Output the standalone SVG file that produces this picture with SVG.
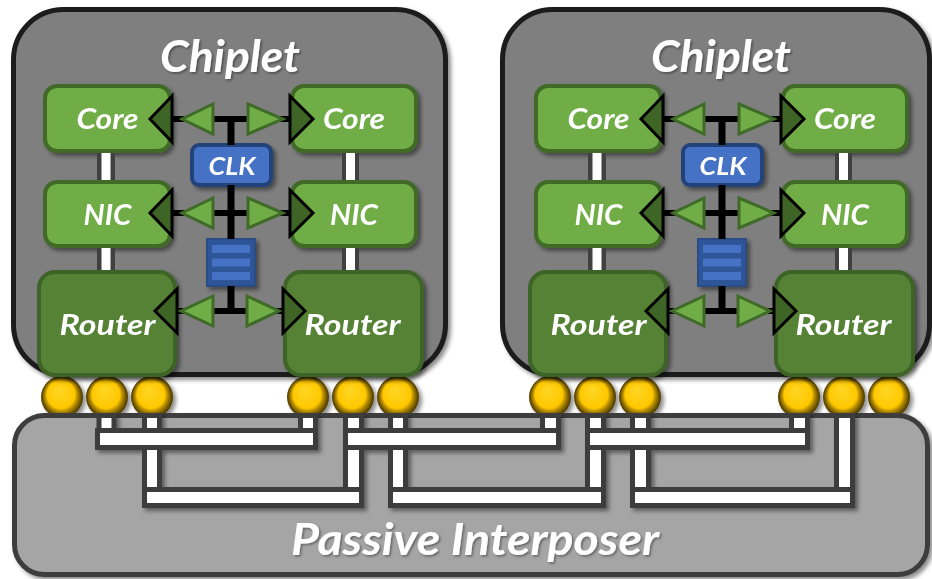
<svg xmlns="http://www.w3.org/2000/svg" width="932" height="579" viewBox="0 0 932 579">
  <defs>
    <style>
      .lbl { font-family: Lato, "Open Sans", "Liberation Sans", sans-serif; font-weight: bold; font-style: italic; fill: #ffffff; text-anchor: middle; }
      .die { fill: #7f7f7f; stroke: #1b1b1b; stroke-width: 5; }
      .blk { fill: #70ad47; stroke: #3f6a28; stroke-width: 4; }
      .rtr { fill: #548235; stroke: #3d6326; stroke-width: 4; }
      .clk { fill: #4472c4; stroke: #22427a; stroke-width: 4; }
      .buf { fill: #2f5597; stroke: #2a4d88; stroke-width: 2; }
      .bar { fill: #4472c4; }
      .base { fill: #a5a5a5; stroke: #3d3d3d; stroke-width: 5; }
      .wire { fill: #ffffff; stroke: #3d3d3d; stroke-width: 5; }
      .bus { stroke: #000000; stroke-width: 6; fill: none; }
      .stem { stroke: #000000; stroke-width: 7; fill: none; }
      .head { fill: #3f6526; stroke: #000000; stroke-width: 3; stroke-linejoin: miter; }
      .flow { fill: #70ad47; stroke: #3f6a28; stroke-width: 3; stroke-linejoin: miter; }
      .link-edge { fill: #404040; }
      .link-core { fill: #ffffff; }
      .bump { fill: url(#bumpFill); }
    </style>
    <filter id="shadow" x="-20%" y="-20%" width="150%" height="150%">
      <feDropShadow dx="3" dy="3" stdDeviation="2" flood-color="#000000" flood-opacity="0.45"/>
    </filter>
    <filter id="textShadow" x="-10%" y="-20%" width="130%" height="150%">
      <feDropShadow dx="1.5" dy="1.5" stdDeviation="1" flood-color="#000000" flood-opacity="0.4"/>
    </filter>
    <radialGradient id="bumpFill" cx="0.5" cy="0.5" r="0.5" fx="0.42" fy="0.32">
      <stop offset="0" stop-color="#ffd626"/>
      <stop offset="0.66" stop-color="#ffc800"/>
      <stop offset="0.78" stop-color="#b58c00"/>
      <stop offset="0.92" stop-color="#6b5200"/>
      <stop offset="1" stop-color="#4a3800"/>
    </radialGradient>
  </defs>

  <!-- micro-bumps under each router (lower halves sit behind the interposer edge) -->
  <g id="bumps-a-left" filter="url(#shadow)">
    <circle class="bump" cx="62" cy="397" r="21"/>
    <circle class="bump" cx="107" cy="397" r="21"/>
    <circle class="bump" cx="152" cy="397" r="21"/>
  </g>
  <g id="bumps-a-right" filter="url(#shadow)">
    <circle class="bump" cx="308" cy="397" r="21"/>
    <circle class="bump" cx="353" cy="397" r="21"/>
    <circle class="bump" cx="398" cy="397" r="21"/>
  </g>
  <g id="bumps-b-left" filter="url(#shadow)">
    <circle class="bump" cx="550" cy="397" r="21"/>
    <circle class="bump" cx="595" cy="397" r="21"/>
    <circle class="bump" cx="640" cy="397" r="21"/>
  </g>
  <g id="bumps-b-right" filter="url(#shadow)">
    <circle class="bump" cx="799" cy="397" r="21"/>
    <circle class="bump" cx="844" cy="397" r="21"/>
    <circle class="bump" cx="889" cy="397" r="21"/>
  </g>

  <!-- passive interposer substrate -->
  <g id="interposer">
    <rect class="base" x="14.5" y="415.5" width="913" height="159" rx="30" filter="url(#shadow)"/>
    <text class="lbl" x="475" y="555" font-size="44" textLength="368" lengthAdjust="spacingAndGlyphs" filter="url(#textShadow)">Passive Interposer</text>
  </g>

  <!-- chiplet dies -->
  <g id="chiplet-a">
    <rect class="die" x="13.5" y="9.5" width="432" height="365" rx="50" filter="url(#shadow)"/>
    <text class="lbl" x="230" y="72" font-size="44" textLength="140" lengthAdjust="spacingAndGlyphs" filter="url(#textShadow)">Chiplet</text>
  </g>
  <g id="chiplet-b">
    <rect class="die" x="502.5" y="9.5" width="427" height="365" rx="50" filter="url(#shadow)"/>
    <text class="lbl" x="721" y="72" font-size="44" textLength="140" lengthAdjust="spacingAndGlyphs" filter="url(#textShadow)">Chiplet</text>
  </g>

  <!-- chiplet A blocks -->
  <g id="a-core-left" filter="url(#shadow)">
    <rect class="blk" x="45" y="86" width="125" height="65" rx="12"/>
    <text class="lbl" x="107.5" y="129" font-size="28" textLength="62" lengthAdjust="spacingAndGlyphs">Core</text>
  </g>
  <g id="a-core-right" filter="url(#shadow)">
    <rect class="blk" x="292" y="86" width="124" height="65" rx="12"/>
    <text class="lbl" x="354" y="129" font-size="28" textLength="62" lengthAdjust="spacingAndGlyphs">Core</text>
  </g>
  <g id="a-nic-left" filter="url(#shadow)">
    <rect class="blk" x="45" y="182" width="125" height="64" rx="12"/>
    <text class="lbl" x="107.5" y="225" font-size="28" textLength="48" lengthAdjust="spacingAndGlyphs">NIC</text>
  </g>
  <g id="a-nic-right" filter="url(#shadow)">
    <rect class="blk" x="292" y="182" width="124" height="64" rx="12"/>
    <text class="lbl" x="354" y="225" font-size="28" textLength="48" lengthAdjust="spacingAndGlyphs">NIC</text>
  </g>
  <g id="a-router-left" filter="url(#shadow)">
    <rect class="rtr" x="39" y="272" width="136" height="103" rx="16"/>
    <text class="lbl" x="107.5" y="335" font-size="28" textLength="96" lengthAdjust="spacingAndGlyphs">Router</text>
  </g>
  <g id="a-router-right" filter="url(#shadow)">
    <rect class="rtr" x="285" y="272" width="137" height="103" rx="16"/>
    <text class="lbl" x="352.5" y="335" font-size="28" textLength="96" lengthAdjust="spacingAndGlyphs">Router</text>
  </g>
  <g id="a-clk" filter="url(#shadow)">
    <rect class="clk" x="192" y="145" width="79" height="40" rx="7"/>
    <text class="lbl" x="232" y="175" font-size="25" textLength="47" lengthAdjust="spacingAndGlyphs">CLK</text>
  </g>
  <g id="a-buffer" filter="url(#shadow)">
    <rect class="buf" x="207" y="239" width="48" height="47"/>
    <rect class="bar" x="212" y="245" width="38" height="8"/>
    <rect class="bar" x="212" y="258.5" width="38" height="8"/>
    <rect class="bar" x="212" y="272" width="38" height="8"/>
  </g>

  <!-- chiplet B blocks (same floorplan, shifted) -->
  <g id="b-core-left" transform="translate(491,0)" filter="url(#shadow)">
    <rect class="blk" x="45" y="86" width="125" height="65" rx="12"/>
    <text class="lbl" x="107.5" y="129" font-size="28" textLength="62" lengthAdjust="spacingAndGlyphs">Core</text>
  </g>
  <g id="b-core-right" transform="translate(491,0)" filter="url(#shadow)">
    <rect class="blk" x="292" y="86" width="124" height="65" rx="12"/>
    <text class="lbl" x="354" y="129" font-size="28" textLength="62" lengthAdjust="spacingAndGlyphs">Core</text>
  </g>
  <g id="b-nic-left" transform="translate(491,0)" filter="url(#shadow)">
    <rect class="blk" x="45" y="182" width="125" height="64" rx="12"/>
    <text class="lbl" x="107.5" y="225" font-size="28" textLength="48" lengthAdjust="spacingAndGlyphs">NIC</text>
  </g>
  <g id="b-nic-right" transform="translate(491,0)" filter="url(#shadow)">
    <rect class="blk" x="292" y="182" width="124" height="64" rx="12"/>
    <text class="lbl" x="354" y="225" font-size="28" textLength="48" lengthAdjust="spacingAndGlyphs">NIC</text>
  </g>
  <g id="b-router-left" transform="translate(491,0)" filter="url(#shadow)">
    <rect class="rtr" x="39" y="272" width="136" height="103" rx="16"/>
    <text class="lbl" x="107.5" y="335" font-size="28" textLength="96" lengthAdjust="spacingAndGlyphs">Router</text>
  </g>
  <g id="b-router-right" transform="translate(491,0)" filter="url(#shadow)">
    <rect class="rtr" x="285" y="272" width="137" height="103" rx="16"/>
    <text class="lbl" x="352.5" y="335" font-size="28" textLength="96" lengthAdjust="spacingAndGlyphs">Router</text>
  </g>
  <g id="b-clk" transform="translate(491,0)" filter="url(#shadow)">
    <rect class="clk" x="192" y="145" width="79" height="40" rx="7"/>
    <text class="lbl" x="232" y="175" font-size="25" textLength="47" lengthAdjust="spacingAndGlyphs">CLK</text>
  </g>
  <g id="b-buffer" transform="translate(491,0)" filter="url(#shadow)">
    <rect class="buf" x="207" y="239" width="48" height="47"/>
    <rect class="bar" x="212" y="245" width="38" height="8"/>
    <rect class="bar" x="212" y="258.5" width="38" height="8"/>
    <rect class="bar" x="212" y="272" width="38" height="8"/>
  </g>

  <!-- connectors -->
  <g id="connectors">
    <!-- interposer traces: vertical vias first, horizontal runs on top -->
    <g id="interposer-traces" filter="url(#shadow)">
      <rect class="wire" x="99" y="415.5" width="15" height="24"/>
      <rect class="wire" x="144.5" y="415.5" width="15" height="84"/>
      <rect class="wire" x="300.5" y="415.5" width="15" height="24"/>
      <rect class="wire" x="345.5" y="415.5" width="16" height="84"/>
      <rect class="wire" x="390.5" y="415.5" width="15" height="84"/>
      <rect class="wire" x="542.5" y="415.5" width="16" height="24"/>
      <rect class="wire" x="587.5" y="415.5" width="16" height="84"/>
      <rect class="wire" x="632.5" y="415.5" width="16" height="84"/>
      <rect class="wire" x="791.5" y="415.5" width="16" height="24"/>
      <rect class="wire" x="836.5" y="415.5" width="16" height="84"/>

      <rect class="wire" x="97.5" y="430.5" width="218" height="17"/>
      <rect class="wire" x="345.5" y="430.5" width="213" height="17"/>
      <rect class="wire" x="587.5" y="430.5" width="220" height="17"/>
      <rect class="wire" x="144.5" y="489.5" width="217" height="16"/>
      <rect class="wire" x="390.5" y="489.5" width="213" height="16"/>
      <rect class="wire" x="632.5" y="489.5" width="220" height="16"/>
    </g>

    <!-- on-die links of chiplet A -->
    <g id="a-links">
      <rect class="link-edge" x="97" y="153" width="18" height="27"/>
      <rect class="link-core" x="101.5" y="153" width="9" height="27"/>
      <rect class="link-edge" x="97" y="248" width="18" height="22"/>
      <rect class="link-core" x="101.5" y="248" width="9" height="22"/>
      <rect class="link-edge" x="342" y="153" width="17" height="27"/>
      <rect class="link-core" x="346" y="153" width="9" height="27"/>
      <rect class="link-edge" x="342" y="248" width="17" height="22"/>
      <rect class="link-core" x="346" y="248" width="9" height="22"/>

      <path class="stem" d="M231 119V145M231 185V239M231 286V311"/>
      <path class="bus" d="M172 119H290M172 213H290M177 311H283"/>

      <polygon class="head" points="172,96 150,119 172,142"/>
      <polygon class="head" points="290,96 313,119 290,142"/>
      <polygon class="head" points="172,190 150,213 172,236"/>
      <polygon class="head" points="290,190 313,213 290,236"/>
      <polygon class="head" points="177,289 155,311 177,333"/>
      <polygon class="head" points="283,289 305,311 283,333"/>

      <polygon class="flow" points="213,104 182,119 213,134"/>
      <polygon class="flow" points="248,104 283,119 248,134"/>
      <polygon class="flow" points="213,198 182,213 213,228"/>
      <polygon class="flow" points="248,198 283,213 248,228"/>
      <polygon class="flow" points="213,296 181,311 213,326"/>
      <polygon class="flow" points="247,296 279,311 247,326"/>
    </g>

    <!-- on-die links of chiplet B -->
    <g id="b-links" transform="translate(491,0)">
      <rect class="link-edge" x="97" y="153" width="18" height="27"/>
      <rect class="link-core" x="101.5" y="153" width="9" height="27"/>
      <rect class="link-edge" x="97" y="248" width="18" height="22"/>
      <rect class="link-core" x="101.5" y="248" width="9" height="22"/>
      <rect class="link-edge" x="344" y="153" width="17" height="27"/>
      <rect class="link-core" x="348" y="153" width="9" height="27"/>
      <rect class="link-edge" x="344" y="248" width="17" height="22"/>
      <rect class="link-core" x="348" y="248" width="9" height="22"/>

      <path class="stem" d="M231 119V145M231 185V239M231 286V311"/>
      <path class="bus" d="M172 119H290M172 213H290M177 311H283"/>

      <polygon class="head" points="172,96 150,119 172,142"/>
      <polygon class="head" points="290,96 313,119 290,142"/>
      <polygon class="head" points="172,190 150,213 172,236"/>
      <polygon class="head" points="290,190 313,213 290,236"/>
      <polygon class="head" points="177,289 155,311 177,333"/>
      <polygon class="head" points="283,289 305,311 283,333"/>

      <polygon class="flow" points="213,104 182,119 213,134"/>
      <polygon class="flow" points="248,104 283,119 248,134"/>
      <polygon class="flow" points="213,198 182,213 213,228"/>
      <polygon class="flow" points="248,198 283,213 248,228"/>
      <polygon class="flow" points="213,296 181,311 213,326"/>
      <polygon class="flow" points="247,296 279,311 247,326"/>
    </g>
  </g>
</svg>
